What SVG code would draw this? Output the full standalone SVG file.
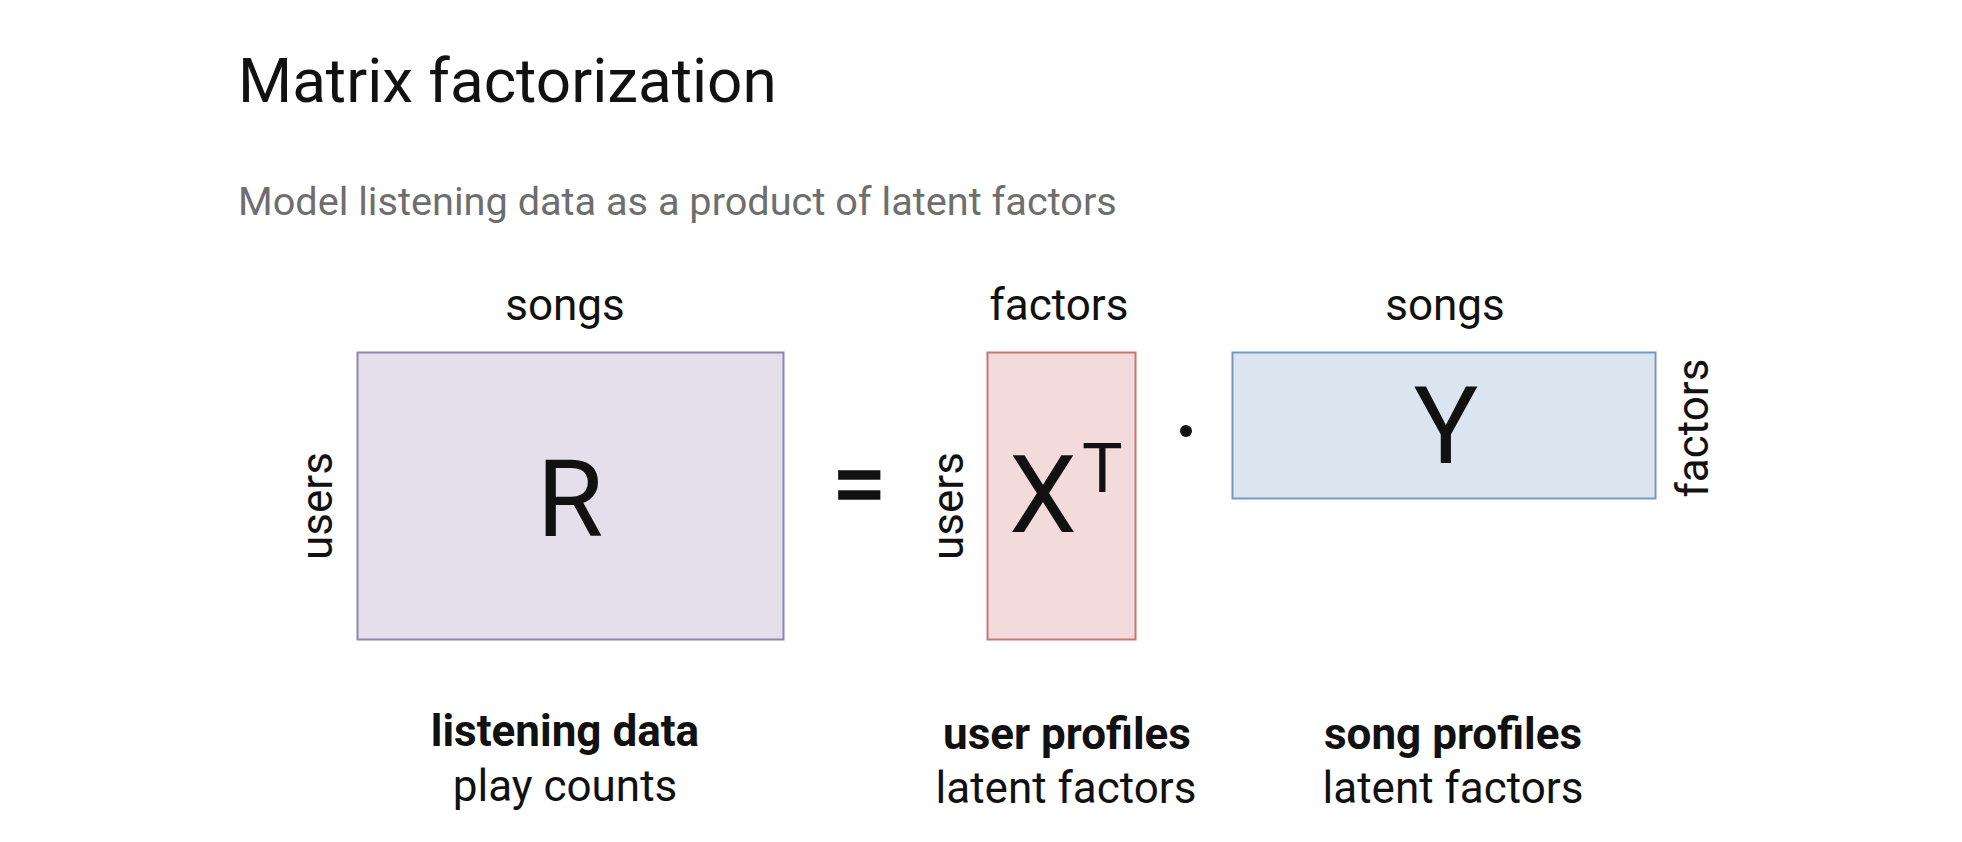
<svg xmlns="http://www.w3.org/2000/svg" width="1962" height="842" viewBox="0 0 1962 842">
<style>
text{font-family:Roboto,"Liberation Sans",sans-serif;fill:#111}
.lbl{font-size:44px}
.big{font-size:108px;text-anchor:middle}
.mid{text-anchor:middle}
.b{font-weight:bold}
</style>
<rect width="1962" height="842" fill="#ffffff"/>
<g id="title">
<text x="238" y="102" style="font-size:62px">Matrix factorization</text>
<text x="238" y="215" style="font-size:39.7px;fill:#6e6e6e">Model listening data as a product of latent factors</text>
</g>
<g id="matrix-R">
<rect x="357.5" y="352.5" width="426" height="287" fill="#e4dfeb" stroke="#8d86ad" stroke-width="2"/>
<text class="big" x="570" y="536">R</text>
<text class="lbl mid" x="565" y="320">songs</text>
<text class="lbl mid" transform="translate(332 506) rotate(-90)">users</text>
<text class="lbl b mid" x="565" y="746">listening data</text>
<text class="lbl mid" x="565" y="801">play counts</text>
</g>
<g id="equals">
<text x="859" y="519" style="font-size:100px;text-anchor:middle;stroke:#111;stroke-width:1.5">=</text>
</g>
<g id="matrix-X">
<rect x="987.5" y="352.5" width="148" height="287" fill="#f3dbdc" stroke="#c47774" stroke-width="2"/>
<text x="1009" y="532" style="font-size:108px">X</text>
<text x="1082" y="492" style="font-size:68px">T</text>
<text class="lbl mid" x="1059" y="320">factors</text>
<text class="lbl mid" transform="translate(963 506) rotate(-90)">users</text>
<text class="lbl b mid" x="1067" y="749">user profiles</text>
<text class="lbl mid" x="1066" y="803">latent factors</text>
</g>
<g id="dot">
<circle cx="1186" cy="431" r="6" fill="#111"/>
</g>
<g id="matrix-Y">
<rect x="1232.5" y="352.5" width="423" height="146" fill="#dbe5f0" stroke="#7898c4" stroke-width="2"/>
<text class="big" x="1446" y="463">Y</text>
<text class="lbl mid" x="1445" y="320">songs</text>
<text class="lbl mid" transform="translate(1708 428) rotate(-90)">factors</text>
<text class="lbl b mid" x="1453" y="749">song profiles</text>
<text class="lbl mid" x="1453" y="803">latent factors</text>
</g>
<g id="connectors"></g>
</svg>
